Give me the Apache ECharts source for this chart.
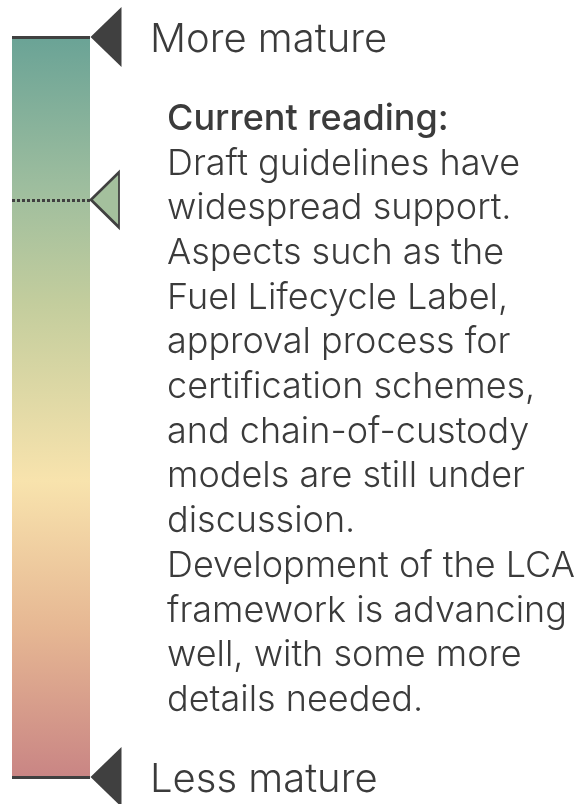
<!DOCTYPE html>
<html>
<head>
<meta charset="utf-8">
<script src="https://cdn.jsdelivr.net/npm/echarts@6/dist/echarts.min.js"></script>
<style>
  html, body { margin: 0; padding: 0; background: #fff; }
  #chartRoot { width: 581px; height: 804px; }
</style>
</head>
<body>
<div id="chartRoot"></div>
<script>
// scale: 0 = less mature, 100 = more mature
const scaleCategories = ["Maturity"];
const scaleRange = [100];
const endValues = [100, 0];
const endLabels = ["More mature", "Less mature"];
const currentValue = 78;
const readingTitle = "Current reading:";
const readingLines = [
  "Draft guidelines have",
  "widespread support.",
  "Aspects such as the",
  "Fuel Lifecycle Label,",
  "approval process for",
  "certification schemes,",
  "and chain-of-custody",
  "models are still under",
  "discussion.",
  "Development of the LCA",
  "framework is advancing",
  "well, with some more",
  "details needed.",
];

const FONT = "Inter, 'Noto Sans', sans-serif";
const TEXT = "#3b3b3b";
const DARK = "#404040";

const chartDom = document.getElementById("chartRoot");
const myChart = echarts.init(chartDom);

// 渐变：上绿下红
const barColor = new echarts.graphic.LinearGradient(0, 0, 0, 1, [
  { offset: 0, color: "#6aa396" },
  { offset: 0.2, color: "#9dbd9e" },
  { offset: 0.36, color: "#c3cd9d" },
  { offset: 0.6, color: "#f8e3ad" },
  { offset: 0.8, color: "#e6b793" },
  { offset: 1, color: "#c98584" },
]);

const endMarks = endValues.map((v) => ({
  coord: [0, v],
  symbol: "triangle",
  symbolRotate: 90,
  symbolSize: [60, 31],
  symbolOffset: [55, 0],
  itemStyle: { color: DARK },
  label: { show: false },
}));
const endTexts = endValues.map((v, i) => ({
  coord: [0, v],
  symbolSize: 0,
  label: {
    show: true,
    formatter: endLabels[i],
    position: "right",
    distance: 99,
    offset: [0, 3],
    color: TEXT,
    fontFamily: FONT,
    fontWeight: 300,
    fontSize: 40,
  },
}));
const currentMark = {
  coord: [0, currentValue],
  symbol: "triangle",
  symbolRotate: 90,
  symbolSize: [55, 28],
  symbolOffset: [54, 0],
  itemStyle: { color: "#a4c09d", borderColor: DARK, borderWidth: 2.5 },
  label: { show: false },
};

const option = {
  animation: false,
  grid: { left: 12, top: 37, width: 78, bottom: 27 },
  xAxis: { type: "category", data: scaleCategories, show: false },
  yAxis: { type: "value", min: 0, max: 100, show: false },
  series: [
    {
      type: "bar",
      data: scaleRange,
      barWidth: "100%",
      itemStyle: { color: barColor },
      silent: true,
      markLine: {
        silent: true,
        symbol: "none",
        label: { show: false },
        data: [
          { yAxis: endValues[0], lineStyle: { color: DARK, width: 3, type: "solid" } },
          { yAxis: endValues[1], lineStyle: { color: DARK, width: 3, type: "solid" } },
          { yAxis: currentValue, lineStyle: { color: DARK, width: 3, type: [3, 2] } },
        ],
      },
      markPoint: {
        silent: true,
        data: [...endMarks, currentMark, ...endTexts],
      },
    },
  ],
  graphic: [
    {
      type: "text",
      left: 167,
      top: 101,
      style: {
        text: "{h|" + readingTitle + "}\n" + readingLines.map((s) => "{b|" + s + "}").join("\n"),
        rich: {
          h: { fontFamily: FONT, fontSize: 36, fontWeight: 450, fill: TEXT, lineHeight: 44.7 },
          b: { fontFamily: FONT, fontSize: 36, fontWeight: 300, fill: TEXT, lineHeight: 44.7 },
        },
      },
    },
  ],
};

myChart.setOption(option);
</script>
</body>
</html>
